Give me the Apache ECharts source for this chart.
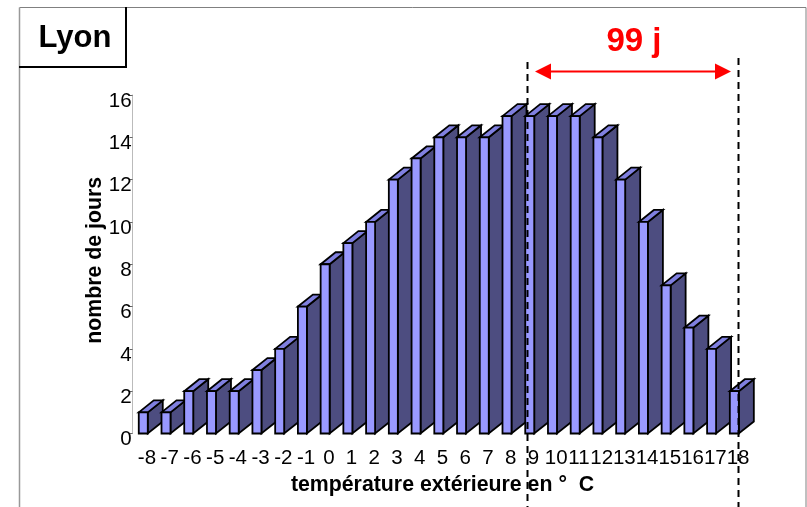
<!DOCTYPE html>
<html><head><meta charset="utf-8">
<style>html,body{margin:0;padding:0;background:#fff}#c{width:807px;height:507px}</style>
<script src="https://cdn.jsdelivr.net/npm/echarts@6/dist/echarts.min.js"></script>
</head><body><div id="c"></div>
<script>
const temperatures = ['-8','-7','-6','-5','-4','-3','-2','-1','0','1','2','3','4','5','6','7','8','9','10','11','12','13','14','15','16','17','18'];
const days = [1,1,2,2,2,3,4,6,8,9,10,12,13,14,14,14,15,15,15,15,14,12,10,7,5,4,2];
const yTicks = [0,2,4,6,8,10,12,14,16];
const cityName = 'Lyon';
const spanLabel = '99 j';
const xTitle = 'température extérieure en °  C';
const yTitle = 'nombre de jours';

const chart = echarts.init(document.getElementById('c'), null, {renderer:'canvas'});
const FONT = '"Liberation Sans", Arial, sans-serif';
const FRONT = '#9999ff', TOP = '#8080e0', SIDE = '#4d4d80';
const DX = 15, DY = 12, FW = 9;

function renderItem(params, api){
  const c = api.coord([api.value(0), api.value(1)]);
  const b = api.coord([api.value(0), 0]);
  const xr = c[0] + 0.8, xl = xr - FW, yt = c[1], yb = b[1];
  const st = f => ({fill:f, stroke:'#000', lineWidth:1.8, lineJoin:'miter'});
  return {type:'group', children:[
    {type:'polygon', shape:{points:[[xr,yt],[xr+DX,yt-DY],[xr+DX,yb-DY],[xr,yb]]}, style:st(SIDE)},
    {type:'polygon', shape:{points:[[xl,yt],[xl+DX,yt-DY],[xr+DX,yt-DY],[xr,yt]]}, style:st(TOP)},
    {type:'polygon', shape:{points:[[xl,yt],[xr,yt],[xr,yb],[xl,yb]]}, style:st(FRONT)}
  ]};
}

chart.setOption({
  animation:false,
  backgroundColor:'#fff',
  grid:{left:135.6, top:95, width:613.8, height:338.5},
  xAxis:{type:'category', data:temperatures, boundaryGap:true,
    axisLine:{show:false}, axisTick:{show:false},
    axisLabel:{interval:0, color:'#000', fontFamily:FONT, fontSize:20.5, margin:14},
    name:xTitle, nameLocation:'middle', nameGap:41,
    nameTextStyle:{fontFamily:FONT, fontWeight:'bold', fontSize:21.3, color:'#000'}
  },
  yAxis:{type:'value', min:0, max:16, interval:2, offset:3,
    axisLine:{show:true, lineStyle:{color:'#bbbbbb', width:1}},
    axisTick:{show:true, length:3, lineStyle:{color:'#666'}},
    splitLine:{show:false},
    axisLabel:{color:'#000', fontFamily:FONT, fontSize:20.5, margin:1, verticalAlign:'top', lineHeight:12,
      formatter:v=>yTicks.includes(v)?String(v):''},
    name:yTitle, nameLocation:'middle', nameGap:27, nameMoveOverlap:false,
    nameTextStyle:{fontFamily:FONT, fontWeight:'bold', fontSize:21.3, color:'#000', padding:[0,0,0,8]}
  },
  series:[{type:'custom', renderItem, data:temperatures.map((t,i)=>[i,days[i]]), clip:false,
    encode:{x:0,y:1}, z:2}],
  graphic:[
    {type:'line', shape:{x1:19.5,y1:7.5,x2:806,y2:7.5}, style:{stroke:'#808080',lineWidth:1}, z:10},
    {type:'line', shape:{x1:19.5,y1:7.5,x2:19.5,y2:507}, style:{stroke:'#999',lineWidth:1.5}, z:10},
    {type:'line', shape:{x1:806,y1:7.5,x2:806,y2:507}, style:{stroke:'#808080',lineWidth:1}, z:10},
    {type:'polyline', shape:{points:[[126,7],[126,67],[19,67]]}, style:{stroke:'#000',lineWidth:2,fill:null}, z:10},
    {type:'text', x:75, y:38, style:{text:cityName, fontFamily:FONT, fontWeight:'bold', fontSize:31, fill:'#000', align:'center', verticalAlign:'middle'}, z:11},
    {type:'text', x:634, y:42, style:{text:spanLabel, fontFamily:FONT, fontWeight:'bold', fontSize:33, fill:'#ff0000', align:'center', verticalAlign:'middle'}, z:11},
    {type:'line', shape:{x1:548,y1:71.5,x2:718,y2:71.5}, style:{stroke:'#ff0000',lineWidth:2}, z:11},
    {type:'polygon', shape:{points:[[535,71.5],[551,63.5],[551,79.5]]}, style:{fill:'#ff0000'}, z:11},
    {type:'polygon', shape:{points:[[731,71.5],[715,63.5],[715,79.5]]}, style:{fill:'#ff0000'}, z:11},
    {type:'line', shape:{x1:527.5,y1:62,x2:527.5,y2:507}, style:{stroke:'#000',lineWidth:2,lineDash:[7,5]}, z:12},
    {type:'line', shape:{x1:738.5,y1:58,x2:738.5,y2:507}, style:{stroke:'#000',lineWidth:2,lineDash:[7,5]}, z:12}
  ]
});
</script></body></html>
